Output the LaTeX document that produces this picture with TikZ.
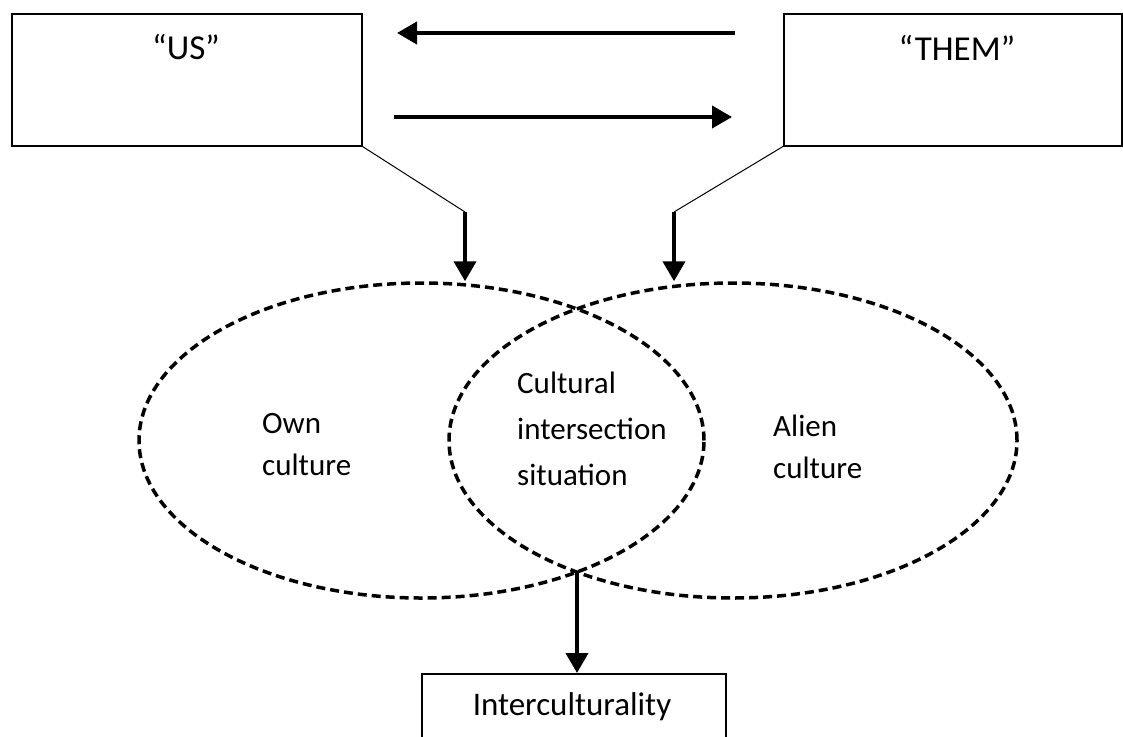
\documentclass[tikz,border=0pt]{standalone}
\usepackage{fontspec}
\setmainfont{Carlito}
\usetikzlibrary{shapes.geometric,arrows.meta}

\begin{document}
\begin{tikzpicture}[x=1pt,y=-1pt,
        box/.style={draw,line width=1.5pt,rectangle,anchor=north west,inner sep=0pt},
        culture/.style={draw,ellipse,line width=3.5pt,dash pattern=on 9pt off 5pt,inner sep=0pt},
        txt/.style={align=left,anchor=base west,inner sep=0pt,font=\fontsize{31}{42}\selectfont},
        head/.style={anchor=base,inner sep=0pt,font=\fontsize{35}{40}\selectfont},
        bold arrow/.style={line width=4pt,-{Triangle[length=20pt,width=22pt]}}]
        \useasboundingbox (0,0) rectangle (1123,736);
        \clip (0,0) rectangle (1123,736);
        \node[box,minimum width=350pt,minimum height=132pt] (us) at (11,13) {};
        \node[box,minimum width=338pt,minimum height=132pt] (them) at (783,13) {};
        \node[head] (ustext) at (186,59) {“US”};
        \node[head] (themtext) at (957,60) {“THEM”};
        \coordinate (topright) at (735,33);
        \coordinate (topleft) at (397,33);
        \coordinate (lowleft) at (394,117);
        \coordinate (lowright) at (732,117);
        \draw[bold arrow] (topright) -- (topleft);
        \draw[bold arrow] (lowleft) -- (lowright);
        \node[culture,minimum width=565pt,minimum height=315pt] (own) at (421.5,440.5) {};
        \node[culture,minimum width=568pt,minimum height=315pt] (alien) at (733,440.5) {};
        \coordinate (usbend) at (465,212);
        \coordinate (thembend) at (674,212);
        \draw[line width=1pt] (us.south east) -- (usbend);
        \draw[line width=1pt] (them.south west) -- (thembend);
        \draw[bold arrow] (usbend) -- (usbend |- own.north);
        \draw[bold arrow] (thembend) -- (thembend |- alien.north);
        \node[txt] (owntext) at (262,475) {Own\\culture};
        \node[txt] (middle) at (517,485) {Cultural\\[4pt]intersection\\[4pt]situation};
        \node[txt] (alientext) at (773,478) {Alien\\culture};
        \node[box,minimum width=304pt,minimum height=90pt] (inter) at (421,673) {};
        \node[head,font=\fontsize{33}{36}\selectfont] (intertext) at (572,715) {Interculturality};
        \coordinate (meet) at (577,572);
        \draw[bold arrow] (meet) -- (meet |- inter.north);
    \end{tikzpicture}
\end{document}
